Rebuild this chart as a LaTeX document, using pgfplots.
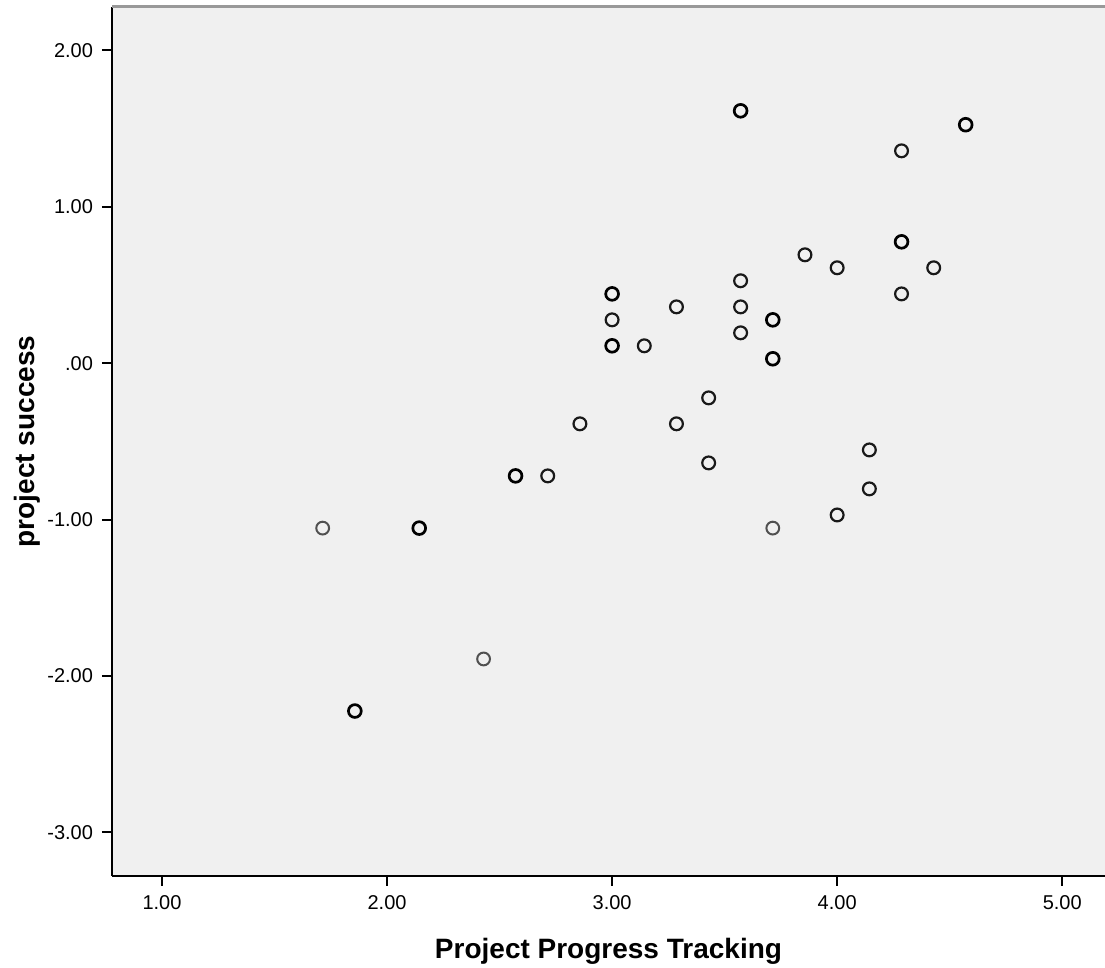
\documentclass[border=0pt]{standalone}
\usepackage{pgfplots}
\pgfplotsset{compat=1.18}
\usepackage{fontspec}
\setmainfont{Liberation Sans}
\definecolor{bg}{RGB}{240,240,240}
\definecolor{lightpt}{RGB}{80,80,80}
\begin{document}
\begin{tikzpicture}
\useasboundingbox (0,0) rectangle (552.5pt,484pt);
\begin{axis}[
  at={(56pt,46pt)}, anchor=south west,
  scale only axis, width=496.5pt, height=434.5pt,
  xmin=0.778, xmax=5.19, ymin=-3.28, ymax=2.278,
  axis x line*=bottom, axis y line*=left,
  axis line style={black, line width=0.9pt},
  axis background/.style={fill=bg},
  xtick={1,2,3,4,5}, xticklabels={1.00,2.00,3.00,4.00,5.00},
  ytick={-3,-2,-1,0,1,2}, yticklabels={-3.00,-2.00,-1.00,.00,1.00,2.00},
  tick align=outside, major tick length=5pt,
  every tick/.style={black, line width=1pt},
  tick label style={font=\fontsize{10}{12}\selectfont},
  xticklabel style={yshift=-1pt},
  yticklabel style={xshift=-1pt},
  xlabel={Project Progress Tracking},
  ylabel={project success},
  label style={font=\fontsize{14}{16}\selectfont\bfseries},
  xlabel style={at={([yshift=-37.5pt]axis description cs:0.5,0)}, anchor=center},
  ylabel style={at={([xshift=-42.5pt]axis description cs:0,0.5)}, anchor=center},
  clip=false,
]
\draw[gray!80, line width=1.5pt] (rel axis cs:0,1) -- (rel axis cs:1,1);
% single points
\addplot[only marks, mark=o, mark size=3.2pt, mark options={line width=1.1pt, draw=black!90}] coordinates {
(2.714,-0.721) (2.857,-0.388) (3.0,0.277) (3.143,0.111)
(3.286,0.360) (3.286,-0.388) (3.429,-0.222) (3.429,-0.638)
(3.571,0.527) (3.571,0.360) (3.571,0.194)
(3.857,0.693) (4.0,0.610) (4.0,-0.971) (4.143,-0.555) (4.143,-0.804)
(4.286,1.358) (4.286,0.443) (4.429,0.610)
};
% light points
\addplot[only marks, mark=o, mark size=3.2pt, mark options={line width=1pt, draw=lightpt}] coordinates {
(1.714,-1.055) (2.429,-1.892) (3.714,-1.055)
};
% overlapping (bold) points
\addplot[only marks, mark=o, mark size=3.2pt, mark options={line width=1.35pt, draw=black}] coordinates {
(1.857,-2.225) (2.143,-1.055) (2.571,-0.721) (3.0,0.443) (3.0,0.111)
(3.571,1.614) (3.714,0.277) (3.714,0.028) (4.286,0.776) (4.571,1.525)
};
\end{axis}
\end{tikzpicture}
\end{document}
